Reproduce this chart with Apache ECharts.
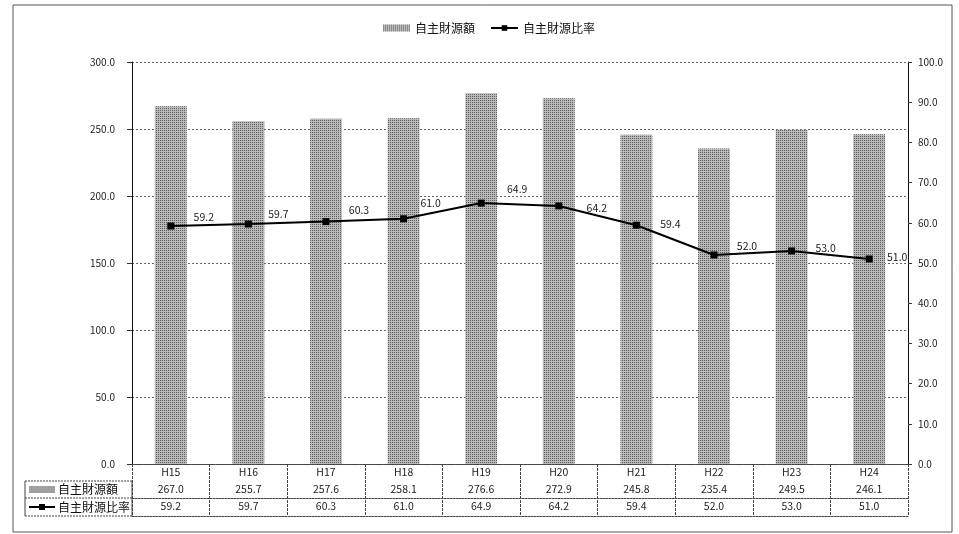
<!DOCTYPE html>
<html>
<head>
<meta charset="utf-8">
<script src="https://cdn.jsdelivr.net/npm/echarts@6/dist/echarts.min.js"></script>
<style>
html,body{margin:0;padding:0;background:#fff;}
#chart{width:959px;height:534px;}
</style>
</head>
<body>
<div id="chart"></div>
<script>
const categories = ['H15','H16','H17','H18','H19','H20','H21','H22','H23','H24'];
const revenue = [267.0,255.7,257.6,258.1,276.6,272.9,245.8,235.4,249.5,246.1];
const ratio = [59.2,59.7,60.3,61.0,64.9,64.2,59.4,52.0,53.0,51.0];
const revenueName = '自主財源額';
const ratioName = '自主財源比率';

const FONT = 'Noto Sans CJK JP';
const chart = echarts.init(document.getElementById('chart'), null, {renderer:'canvas'});

const labelShift = [[33,-9],[30,-10],[33,-12],[27,-16],[36,-14],[38,2],[34,-1],[33,-9],[34,-3],[28,-2]];
const dotted = {color:'#444', width:1, type:[2,1]};
const barDecal = {symbol:'rect', symbolSize:1, dashArrayX:[1,1], dashArrayY:[1,1], color:'rgba(80,80,80,0.85)'};

function tableAxis(data, offset, showLabel, tickLen){
  return {
    type:'category', data:data, position:'bottom', offset:offset, gridIndex:0,
    axisLine:{show:true, lineStyle:dotted},
    axisTick:{show:tickLen>0, interval:0, length:tickLen, inside:false, alignWithLabel:false, lineStyle:{color:'#444', width:1, type:[3,1]}},
    axisLabel:{show:showLabel, interval:0, margin:3, fontSize:10.5, color:'#222', fontFamily:FONT},
    splitLine:{show:false}
  };
}

const option = {
  backgroundColor:'#fff',
  animation:false,
  textStyle:{fontFamily:FONT},
  legend:{
    top:17, left:378, itemGap:15, itemWidth:27, itemHeight:7,
    textStyle:{fontSize:12, color:'#111', fontFamily:FONT},
    data:[{name:revenueName, icon:'rect'}, {name:ratioName}]
  },
  grid:{left:132, right:51, top:62, bottom:70, containLabel:false},
  xAxis:[
    tableAxis(categories, 0, true, 52),
    tableAxis(revenue.map(v=>v.toFixed(1)), 17, true, 0),
    tableAxis(ratio.map(v=>v.toFixed(1)), 34, true, 0),
    tableAxis(categories.map(()=>''), 52, false, 0)
  ],
  yAxis:[
    {type:'value', min:0, max:300, interval:50, position:'left',
     axisLine:{show:true, lineStyle:{color:'#111', width:1}},
     axisTick:{show:true, length:5, lineStyle:{color:'#333'}},
     axisLabel:{margin:17, fontSize:10, color:'#222', fontFamily:FONT, formatter:v=>v.toFixed(1)},
     splitLine:{show:true, lineStyle:{color:'#666', width:1, type:[2,2]}}},
    {type:'value', min:0, max:100, interval:10, position:'right',
     axisLine:{show:true, lineStyle:{color:'#111', width:1}},
     axisTick:{show:true, length:4, lineStyle:{color:'#333'}},
     axisLabel:{margin:10, fontSize:10, color:'#222', fontFamily:FONT, formatter:v=>v.toFixed(1)},
     splitLine:{show:false}}
  ],
  series:[
    {name:revenueName, type:'bar', xAxisIndex:0, yAxisIndex:0, data:revenue, barWidth:'41%',
     itemStyle:{color:'#b9b9b9', decal:barDecal}},
    {name:ratioName, type:'line', xAxisIndex:0, yAxisIndex:1,
     data:ratio.map((v,i)=>({value:v, label:{offset:labelShift[i]}})),
     symbol:'rect', symbolSize:7, z:5,
     lineStyle:{color:'#000', width:2}, itemStyle:{color:'#000'},
     label:{show:true, position:'inside', fontSize:10.5, color:'#222', fontFamily:FONT, formatter:p=>p.value.toFixed(1)}}
  ],
  graphic:[
    {type:'rect', shape:{x:13, y:5, width:939, height:527}, style:{fill:'none', stroke:'#555', lineWidth:1}, silent:true},
    {type:'line', shape:{x1:25, y1:481, x2:132, y2:481}, style:{stroke:'#444', lineWidth:1, lineDash:[2,1]}},
    {type:'line', shape:{x1:25, y1:498, x2:132, y2:498}, style:{stroke:'#444', lineWidth:1, lineDash:[2,1]}},
    {type:'line', shape:{x1:25, y1:516, x2:132, y2:516}, style:{stroke:'#444', lineWidth:1, lineDash:[2,1]}},
    {type:'line', shape:{x1:25, y1:481, x2:25, y2:516}, style:{stroke:'#444', lineWidth:1}},
    {type:'line', shape:{x1:132, y1:481, x2:132, y2:516}, style:{stroke:'#444', lineWidth:1}},
    {type:'rect', shape:{x:29, y:486, width:26, height:7}, style:{fill:'#a0a0a0'}},
    {type:'text', style:{x:58, y:489.5, text:revenueName, fontSize:12, fontFamily:FONT, fill:'#111', verticalAlign:'middle'}},
    {type:'line', shape:{x1:29, y1:507, x2:55, y2:507}, style:{stroke:'#000', lineWidth:2}},
    {type:'rect', shape:{x:39, y:504, width:6, height:6}, style:{fill:'#000'}},
    {type:'text', style:{x:58, y:507, text:ratioName, fontSize:12, fontFamily:FONT, fill:'#111', verticalAlign:'middle'}}
  ]
};
chart.setOption(option);
</script>
</body>
</html>
